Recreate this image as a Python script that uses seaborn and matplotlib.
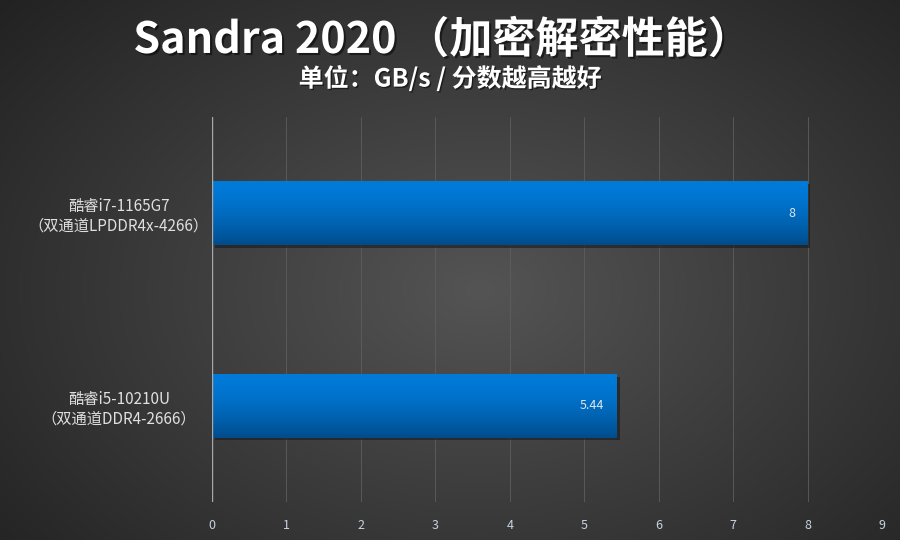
import numpy as np
import pandas as pd
import seaborn as sns
import matplotlib.pyplot as plt
from matplotlib import patheffects as pe

# data
cpus = ["酷睿i7-1165G7\n（双通道LPDDR4x-4266）", "酷睿i5-10210U\n（双通道DDR4-2666）"]
scores = [8, 5.44]
value_labels = ["8", "5.44"]
xticks = list(range(0, 10))

df = pd.DataFrame({"cpu": cpus, "score": scores})

sns.set_theme(style="dark")
plt.rcParams["font.family"] = ["Noto Sans CJK SC", "DejaVu Sans"]

fig = plt.figure(figsize=(9, 5.4), dpi=100)

# radial gradient background
bg = fig.add_axes([0, 0, 1, 1], zorder=-10)
yy, xx = np.mgrid[0:540, 0:900]
r = np.sqrt(((xx - 480) / 620) ** 2 + ((yy - 290) / 420) ** 2)
shade = np.clip(0.33 - 0.19 * r, 0.12, 0.33)
bg.imshow(np.dstack([shade] * 3), extent=[0, 1, 0, 1], aspect="auto")
bg.axis("off")

ax = fig.add_axes([0.2356, 0.0704, 0.7444, 0.7129])
ax.patch.set_alpha(0)

sns.barplot(data=df, x="score", y="cpu", orient="h", color="#0074cc",
            width=0.33, saturation=1, ax=ax, zorder=3, edgecolor="none", linewidth=0)

# gradient fill + shadow on bars
grad = np.linspace(0, 1, 64).reshape(-1, 1)
top = np.array([0.0, 0.48, 0.85])
bot = np.array([0.0, 0.30, 0.55])
img = top + (bot - top) * grad[..., None] ** 1.6
for p in ax.patches:
    p.set_path_effects([pe.SimplePatchShadow(offset=(2, -2), shadow_rgbFace="#1a1a1a", alpha=0.6), pe.Normal()])
    x0, y0 = p.get_x(), p.get_y()
    w, h = p.get_width(), p.get_height()
    im = ax.imshow(img, extent=[x0, x0 + w, y0 + h, y0], aspect="auto", zorder=4)
    im.set_clip_path(p)

for i, (v, lab) in enumerate(zip(scores, value_labels)):
    ax.text(v - 0.17, i, lab, ha="right", va="center", color="#dde6f0",
            fontsize=9, zorder=6)

ax.set_xlim(0, 9)
ax.set_ylim(1.5, -0.5)
ax.set_xticks(xticks)
ax.set_xlabel("")
ax.set_ylabel("")
ax.grid(axis="x", color="#5e5e5e", linewidth=0.6, zorder=0)
ax.grid(axis="y", visible=False)
ax.axvline(0, color="#a8a8a8", linewidth=1, zorder=5)
for s in ax.spines.values():
    s.set_visible(False)
ax.tick_params(axis="x", colors="#c8d2e0", labelsize=9, length=0, pad=12)
ax.tick_params(axis="y", colors="#e0e0e0", labelsize=11, length=0, pad=14)
for t in ax.get_yticklabels():
    t.set_multialignment("center")
    t.set_ha("center")
    t.set_x(-0.11)
ax.set_axisbelow(True)

fig.text(0.491, 0.926, "Sandra 2020 （加密解密性能）", ha="center", va="center",
         color="white", fontsize=31, fontweight="bold",
         path_effects=[pe.withSimplePatchShadow(offset=(1.5, -1.5), shadow_rgbFace="black", alpha=0.5)])
fig.text(0.5, 0.855, "单位：GB/s / 分数越高越好", ha="center", va="center",
         color="white", fontsize=18, fontweight="bold",
         path_effects=[pe.withSimplePatchShadow(offset=(1, -1), shadow_rgbFace="black", alpha=0.5)])

fig.savefig("out.png", dpi=100)
